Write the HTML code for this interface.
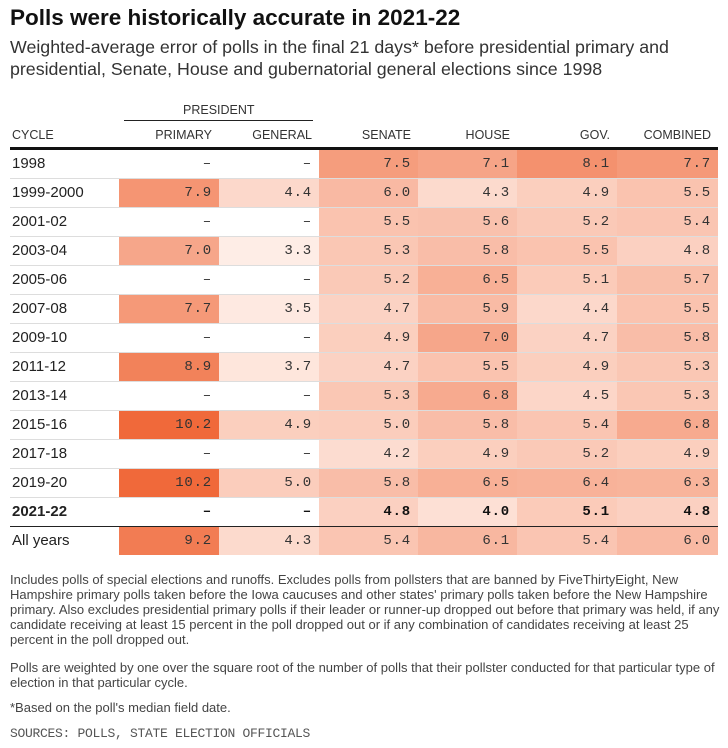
<!DOCTYPE html>
<html><head><meta charset="utf-8">
<style>
body{margin:0;background:#fff;width:728px;height:748px;overflow:hidden;font-family:"Liberation Sans",sans-serif;color:#222;position:relative}
.abs{position:absolute;white-space:nowrap}
#title{left:10px;top:5px;font-size:22.5px;font-weight:bold;color:#111}
.sub{left:10px;font-size:17.8px;color:#333}
.hd{font-size:12.5px;color:#333;top:128px}
.cell{position:absolute;height:28px;box-sizing:border-box;text-align:right;padding-right:7px;line-height:28px;font-family:"Liberation Mono",monospace;font-size:14px;letter-spacing:0.8px;color:#333}
.cyc{position:absolute;left:12px;height:28px;line-height:28px;font-size:15px;color:#222}
.foot{left:10px;font-size:13px;color:#444;line-height:15px}
</style></head><body>
<div class="abs" id="title">Polls were historically accurate in 2021-22</div>
<div class="abs sub" style="top:37px">Weighted-average error of polls in the final 21 days* before presidential primary and</div>
<div class="abs sub" style="top:59px">presidential, Senate, House and gubernatorial general elections since 1998</div>
<div class="abs hd" style="left:183px;top:103px">PRESIDENT</div>
<div class="abs" style="left:124px;top:120px;width:189px;height:1px;background:#222"></div>
<div class="abs hd" style="left:12px">CYCLE</div>
<div id="headers"></div>
<div class="abs" style="left:10px;top:147px;width:708px;height:3px;background:#111"></div>
<div id="table"></div>
<div class="abs foot" style="top:572px">Includes polls of special elections and runoffs. Excludes polls from pollsters that are banned by FiveThirtyEight, New<br>Hampshire primary polls taken before the Iowa caucuses and other states' primary polls taken before the New Hampshire<br>primary. Also excludes presidential primary polls if their leader or runner-up dropped out before that primary was held, if any<br>candidate receiving at least 15 percent in the poll dropped out or if any combination of candidates receiving at least 25<br>percent in the poll dropped out.</div>
<div class="abs foot" style="top:660px">Polls are weighted by one over the square root of the number of polls that their pollster conducted for that particular type of<br>election in that particular cycle.</div>
<div class="abs foot" style="top:700px">*Based on the poll's median field date.</div>
<div class="abs" style="left:10px;top:726px;font-family:'Liberation Mono',monospace;font-size:13px;letter-spacing:-0.3px;color:#555">SOURCES: POLLS, STATE ELECTION OFFICIALS</div>
<script>
const cycles=["1998","1999-2000","2001-02","2003-04","2005-06","2007-08","2009-10","2011-12","2013-14","2015-16","2017-18","2019-20","2021-22","All years"];
const columns=["PRIMARY","GENERAL","SENATE","HOUSE","GOV.","COMBINED"];
const primary=[null,7.9,null,7.0,null,7.7,null,8.9,null,10.2,null,10.2,null,9.2];
const general=[null,4.4,null,3.3,null,3.5,null,3.7,null,4.9,null,5.0,null,4.3];
const senate=[7.5,6.0,5.5,5.3,5.2,4.7,4.9,4.7,5.3,5.0,4.2,5.8,4.8,5.4];
const house=[7.1,4.3,5.6,5.8,6.5,5.9,7.0,5.5,6.8,5.8,4.9,6.5,4.0,6.1];
const gov=[8.1,4.9,5.2,5.5,5.1,4.4,4.7,4.9,4.5,5.4,5.2,6.4,5.1,5.4];
const combined=[7.7,5.5,5.4,4.8,5.7,5.5,5.8,5.3,5.3,6.8,4.9,6.3,4.8,6.0];
const series=[primary,general,senate,house,gov,combined];
const colX=[119,219,319,418,517,617], colW=[100,100,99,99,100,101];
const top0=150, rowH=29;
function color(v){let t=Math.max(0,Math.min(1,(v-3)/(10.5-3)));
 const r=Math.round(255-t*16),g=Math.round(243-t*144),b=Math.round(238-t*188);return `rgb(${r},${g},${b})`;}
const H=document.getElementById('headers');
columns.forEach((c,i)=>{const d=document.createElement('div');d.className='abs hd';
 d.style.left=colX[i]+'px';d.style.width=(colW[i]-7)+'px';d.style.textAlign='right';d.textContent=c;
 
 H.appendChild(d);});
const T=document.getElementById('table');
cycles.forEach((cy,r)=>{const y=top0+r*rowH;const bold=cy==="2021-22";
 const l=document.createElement('div');l.className='cyc';l.style.top=y+'px';l.textContent=cy;
 if(bold)l.style.fontWeight='bold';
 
 T.appendChild(l);
 series.forEach((s,c)=>{const v=s[r];const d=document.createElement('div');d.className='cell';
  d.style.left=colX[c]+'px';d.style.width=colW[c]+'px';d.style.top=y+'px';
  if(v!==null){d.style.background=color(v);d.textContent=v.toFixed(1);}else d.textContent='–';
  if(bold){d.style.fontWeight='bold';d.style.color='#111';}
  
  T.appendChild(d);});
 if(r<cycles.length-1){const ln=document.createElement('div');ln.className='abs';
  ln.style.left='10px';ln.style.top=(y+28)+'px';ln.style.width='708px';ln.style.height='1px';
  ln.style.background=(r===12)?'#222':'#ddd';
  
  T.appendChild(ln);}
});
</script>
</body></html>
